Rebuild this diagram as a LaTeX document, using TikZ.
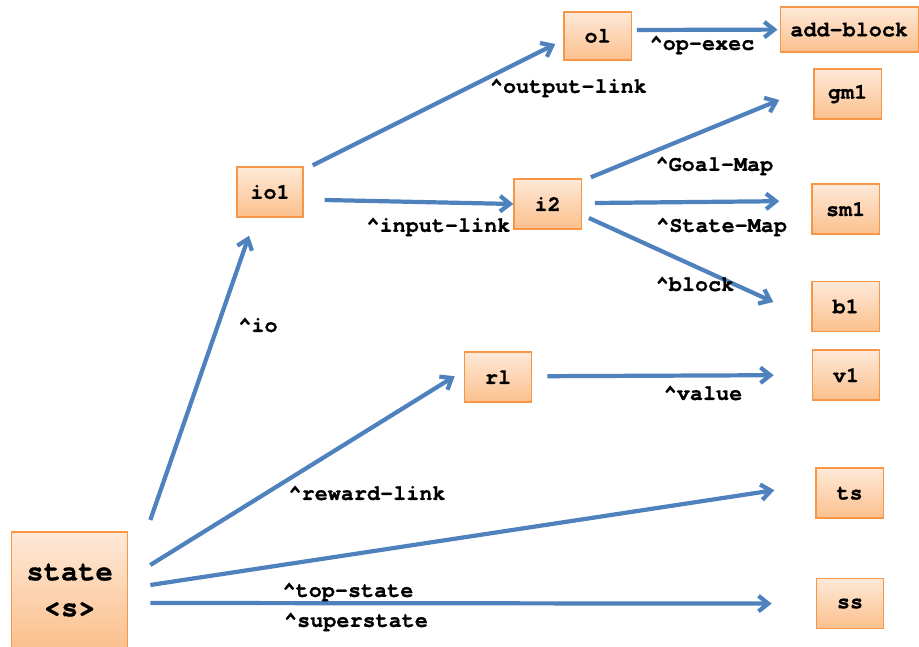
\documentclass[tikz,border=0pt]{standalone}
\usepackage{fontspec}
\setmonofont{texgyrecursor}[Extension=.otf, UprightFont=*-regular, BoldFont=*-bold,
                            BoldFeatures={FakeBold=0.8}]
\usetikzlibrary{arrows.meta}
\definecolor{linkblue}{HTML}{4F81BD}
\definecolor{boxedge}{HTML}{F79646}
\definecolor{boxtop}{HTML}{FEE9D8}
\definecolor{boxbot}{HTML}{FBC08D}
\newcommand{\caretsym}{\textasciicircum}

\begin{document}
\begin{tikzpicture}[wme/.style={draw=boxedge, line width=1pt, top color=boxtop, bottom color=boxbot,
                                minimum width=1.68cm, minimum height=1.25cm, inner sep=0pt,
                                font=\ttfamily\bfseries\fontsize{15.5}{18}\selectfont},
                    attr/.style={font=\ttfamily\bfseries\fontsize{15.5}{18}\selectfont, inner sep=0pt},
                    link/.style={draw=linkblue, line width=3pt, -{Straight Barb[length=7pt,width=11pt]}}
                    ]
    \useasboundingbox (0,0) rectangle (22.975,-16.175);
    % working memory elements
    \node[wme, minimum width=2.9cm, minimum height=2.9cm, align=center,
          font=\ttfamily\bfseries\fontsize{20.5}{25.6}\selectfont] (state) at (1.74,-14.75) {state\\<s>};
    \node[wme, minimum width=1.65cm] (io1) at (6.75,-4.8) {io1};
    \node[wme] (i2) at (13.69,-5.1) {i2};
    \node[wme, minimum height=1.2cm] (ol) at (14.94,-0.9) {ol};
    \node[wme, minimum width=3.45cm, minimum height=1.125cm] (addblock) at (21.23,-0.74) {add-block};
    \node[wme] (gm1) at (21.19,-2.35) {gm1};
    \node[wme] (sm1) at (21.14,-5.23) {sm1};
    \node[wme] (b1) at (21.14,-7.66) {b1};
    \node[wme] (rl) at (12.45,-9.43) {rl};
    \node[wme] (v1) at (21.15,-9.38) {v1};
    \node[wme] (ts) at (21.24,-12.33) {ts};
    \node[wme] (ss) at (21.25,-15.09) {ss};

    % links
    \draw[link] ([shift={(0.55,1.75)}]state.east) -- ([shift={(-0.525,-0.45)}]io1.south);
    \draw[link] ([shift={(0.55,0.625)}]state.east) -- ([shift={(-0.225,0.025)}]rl.west);
    \draw[link] ([shift={(0.55,0.125)}]state.east) -- ([shift={(-1.025,0.075)}]ts.west);
    \draw[link] ([shift={(0.55,-0.325)}]state.east) -- ([shift={(-1.1,0)}]ss.west);
    \draw[link] ([shift={(0.225,0.025)}]io1.north east) -- ([shift={(-0.2,-0.2)}]ol.west);
    \draw[link] ([shift={(0.525,-0.2)}]io1.east) -- (i2.west);
    \draw[link] ([shift={(0.125,0.15)}]ol.east) -- ([shift={(-0.05,0)}]addblock.west);
    \draw[link] ([shift={(0.225,0.025)}]i2.north east) -- ([shift={(-0.85,-0.15)}]gm1.west);
    \draw[link] ([shift={(0.325,0.025)}]i2.east) -- ([shift={(-0.8,0.2)}]sm1.west);
    \draw[link] ([shift={(0.175,-0.35)}]i2.east) -- ([shift={(-0.95,0.11)}]b1.west);
    \draw[link] ([shift={(0.375,0.025)}]rl.east) -- ([shift={(-0.95,0)}]v1.west);

    % attribute names
    \node[attr] (a-io) at (6.45,-8.125) {\caretsym io};
    \node[attr] (a-output) at (14.21,-2.2) {\caretsym output-link};
    \node[attr] (a-input) at (10.96,-5.675) {\caretsym input-link};
    \node[attr] (a-opexec) at (17.55,-1.125) {\caretsym op-exec};
    \node[attr] (a-goal) at (17.86,-4.15) {\caretsym Goal-Map};
    \node[attr] (a-statemap) at (18.04,-5.675) {\caretsym State-Map};
    \node[attr] (a-block) at (17.375,-7.1) {\caretsym block};
    \node[attr] (a-value) at (17.575,-9.825) {\caretsym value};
    \node[attr] (a-reward) at (9.175,-12.325) {\caretsym reward-link};
    \node[attr] (a-top) at (8.7,-14.8) {\caretsym top-state};
    \node[attr] (a-super) at (8.9,-15.55) {\caretsym superstate};
\end{tikzpicture}
\end{document}
